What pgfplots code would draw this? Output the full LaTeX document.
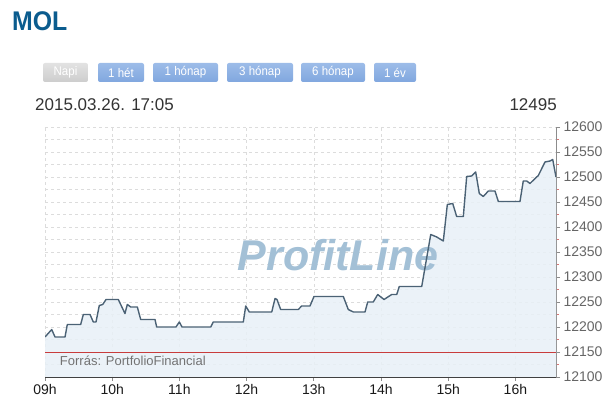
\documentclass[border=0pt]{standalone}
\usepackage{fontspec}
\setmainfont{Liberation Sans}
\usepackage{pgfplots}
\pgfplotsset{compat=1.18}
\usepackage{pgfplotstable}
\definecolor{titleblue}{HTML}{0B5C8E}
\definecolor{btnblue}{HTML}{80A7DF}
\definecolor{btnblueT}{HTML}{9DBCE8}
\definecolor{btngray}{HTML}{CDCDCD}
\definecolor{btngrayT}{HTML}{E2E2E2}
\definecolor{linec}{HTML}{4B6275}
\definecolor{fillc}{HTML}{E8F0F7}
\definecolor{gridc}{HTML}{DCDCDC}
\definecolor{redc}{HTML}{C83C3C}
\definecolor{wm}{HTML}{A3C0D6}
\pgfplotstableread{
x y
9.000 12180
9.100 12195
9.149 12180
9.298 12180
9.332 12205
9.531 12205
9.570 12225
9.670 12225
9.719 12210
9.759 12210
9.808 12243
9.859 12245
9.908 12255
10.091 12255
10.190 12227
10.225 12245
10.275 12240
10.374 12240
10.424 12215
10.637 12215
10.662 12200
10.949 12200
10.999 12210
11.039 12200
11.466 12200
11.504 12210
11.951 12210
11.987 12242
12.040 12230
12.374 12230
12.423 12257
12.452 12255
12.507 12235
12.769 12235
12.820 12242
12.943 12242
13.003 12261
13.439 12261
13.513 12235
13.588 12230
13.762 12230
13.802 12250
13.885 12250
13.951 12265
14.045 12255
14.159 12265
14.234 12265
14.272 12281
14.606 12281
14.740 12385
14.829 12380
14.927 12372
14.987 12445
15.067 12447
15.126 12421
15.225 12421
15.275 12501
15.349 12502
15.409 12510
15.463 12467
15.522 12461
15.597 12472
15.696 12472
15.746 12451
16.068 12451
16.117 12492
16.168 12492
16.217 12487
16.277 12495
16.341 12503
16.440 12530
16.515 12532
16.555 12535
16.604 12500
}\pricedata
\begin{document}
\begin{tikzpicture}[x=1pt,y=1pt]
\useasboundingbox (0pt,0pt) rectangle (613pt,414pt);
% title
\node[anchor=base west,inner sep=0,text=titleblue,font=\fontsize{27}{30}\selectfont\bfseries,xscale=0.92] at (12pt,383pt) {MOL};
% buttons
\newcommand{\btn}[4]{%
  \shade[rounded corners=2pt,top color=#4T,bottom color=#4] (#1pt,332pt) rectangle (#2pt,351pt);
  \node[text=white,font=\fontsize{12.5}{14}\selectfont,inner sep=0,xscale=0.92] at ({(#1+#2)/2*1pt},341.5pt) {#3};}
\btn{43}{88}{Napi}{btngray}
\btn{98}{144}{1 hét}{btnblue}
\btn{153}{218}{1 hónap}{btnblue}
\btn{227}{293}{3 hónap}{btnblue}
\btn{301}{365}{6 hónap}{btnblue}
\btn{374}{416}{1 év}{btnblue}
% date and last price
\node[anchor=base west,inner sep=0,text=black!80,font=\fontsize{17}{20}\selectfont] at (35pt,303pt) {2015.03.26. 17:05};
\node[anchor=base east,inner sep=0,text=black!80,font=\fontsize{17}{20}\selectfont] at (557pt,303pt) {12495};
\begin{axis}[
  at={(45pt,37pt)}, anchor=south west,
  width=511pt, height=250pt, scale only axis,
  xmin=9, xmax=16.604, ymin=12100, ymax=12600,
  axis x line*=bottom, axis y line*=right,
  axis line style={draw=black!45, line width=0.8pt},
  x axis line style={draw=black!75},
  xtick={9,10,11,12,13,14,15,16},
  xticklabels={09h,10h,11h,12h,13h,14h,15h,16h},
  ytick={12100,12150,...,12600},
  minor ytick={12125,12175,...,12575},
  scaled y ticks=false,
  tick align=outside,
  major tick length=4pt, minor tick length=3pt,
  tick style={draw=black!45, line width=0.8pt},
  minor tick style={draw=redc!70, line width=0.8pt},
  xmajorgrids, ymajorgrids, yminorgrids,
  major grid style={draw=gridc, dashed, line width=0.6pt},
  minor grid style={draw=gridc, dashed, line width=0.6pt},
  x tick label style={text=black!90, font=\fontsize{14}{16}\selectfont},
  y tick label style={text=black!60, font=\fontsize{14}{16}\selectfont},
  /pgf/number format/assume math mode=true,
  /pgf/number format/set thousands separator={},
  /pgf/number format/precision=0,
  /pgf/number format/fixed,
  clip=true,
]
\addplot[fill=fillc, draw=none, fill opacity=0.85] table[x=x,y=y] {\pricedata} \closedcycle;
\node[font=\fontsize{43}{46}\selectfont\bfseries\itshape, text=wm] at (axis cs:13.36,12343) {ProfitLine};
\addplot[draw=redc, line width=0.8pt] coordinates {(9,12150) (16.604,12150)};
\addplot[draw=linec, line width=1.4pt, line join=round] table[x=x,y=y] {\pricedata};
\node[anchor=west, inner sep=0, text=black!55, font=\fontsize{13}{15}\selectfont] at (axis cs:9.22,12133) {Forrás: PortfolioFinancial};
\end{axis}
\end{tikzpicture}
\end{document}
